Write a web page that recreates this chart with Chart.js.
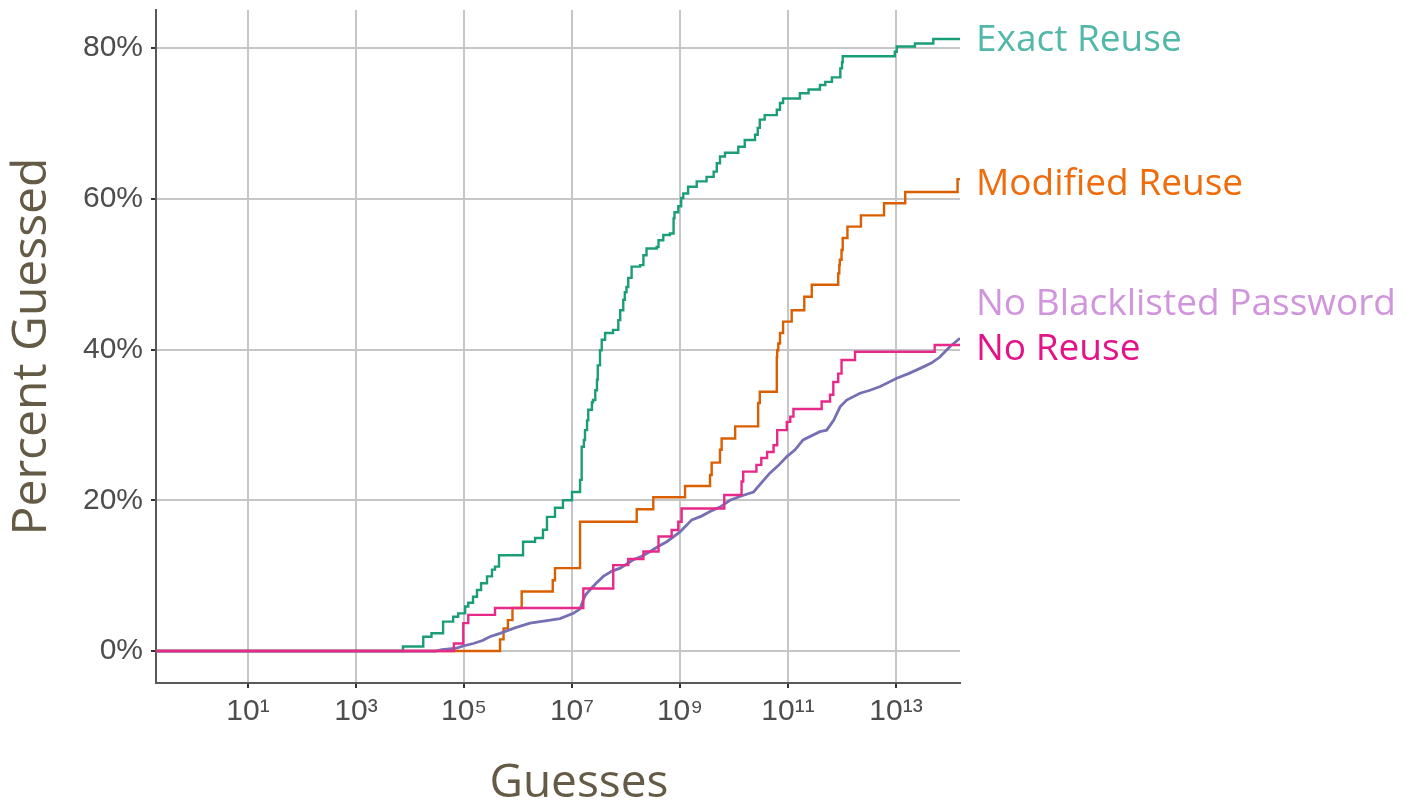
<!DOCTYPE html>
<html>
<head>
<meta charset="utf-8">
<script src="https://cdn.jsdelivr.net/npm/chart.js@4.4.1/dist/chart.umd.min.js"></script>
<style>
  html, body { margin: 0; padding: 0; background: #fff; }
  #wrap { width: 1406px; height: 805px; }
</style>
</head>
<body>
<div id="wrap"><canvas id="myChart" width="1406" height="805"></canvas></div>
<script>
// series names, in the order the end labels appear
const seriesNames = ['Exact Reuse', 'Modified Reuse', 'No Blacklisted Password', 'No Reuse'];

// Exact Reuse (guesses, percent guessed)
const exactX = [0.2, 7.4e3, 1.76e4, 2.5e4, 4.1e4, 6.3e4, 7.8e4, 1.05e5, 1.2e5, 1.47e5, 1.74e5, 2.07e5, 2.67e5, 3.3e5, 3.75e5, 4.45e5,
  1.24e6, 2.07e6, 2.9e6, 3.44e6, 4.84e6, 6.8e6, 1.0e7, 1.41e7, 1.51e7, 1.66e7, 1.74e7, 1.9e7, 2.0e7, 2.34e7, 2.45e7, 2.7e7, 2.9e7,
  3.0e7, 3.3e7, 3.55e7, 4.1e7, 5.75e7, 7.2e7, 7.8e7, 8.9e7, 9.5e7, 1.02e8, 1.1e8, 1.27e8, 1.82e8, 2.1e8, 2.4e8, 3.7e8, 4.0e8,
  4.9e8, 6.5e8, 7.6e8, 7.9e8, 9.3e8, 1.05e9, 1.15e9, 1.41e9, 2.04e9, 3.1e9, 4.2e9, 4.8e9, 5.5e9, 6.8e9, 1.2e10, 1.58e10, 2.45e10,
  2.75e10, 3.0e10, 3.7e10, 6.2e10, 7.1e10, 8.1e10, 1.66e11, 2.4e11, 3.9e11, 4.9e11, 6.5e11, 9.3e11, 1.0e12, 1.03e12, 9.5e12,
  1.03e13, 2.24e13, 4.9e13, 1.53e14];
const exactY = [0, 0.6, 1.9, 2.35, 3.9, 4.55, 5.0, 5.9, 6.4, 7.2, 8.1, 9.0, 9.9, 10.8, 11.2, 12.7,
  14.5, 15.0, 16.1, 17.8, 19.0, 20.0, 21.1, 22.7, 27.1, 28.0, 29.3, 30.6, 32.0, 33.0, 33.3, 34.6, 36.0,
  37.9, 39.9, 41.3, 42.2, 42.6, 43.9, 45.2, 46.6, 47.6, 48.3, 49.5, 51.0, 51.2, 52.5, 53.4, 53.6, 54.5,
  55.2, 55.4, 57.4, 58.2, 59.0, 60.1, 60.7, 61.6, 62.3, 62.9, 63.6, 64.7, 65.6, 66.1, 66.9, 67.8, 68.5,
  69.4, 70.5, 71.1, 71.8, 72.7, 73.3, 74.0, 74.5, 75.1, 75.5, 76.1, 77.3, 78.1, 78.9, 79.5,
  80.2, 80.6, 81.2, 81.2];

// Modified Reuse
const modX = [0.2, 4.65e5, 5.4e5, 6.5e5, 7.9e5, 1.17e6, 4.4e6, 4.84e6, 1.41e7, 1.58e8, 3.2e8, 1.24e9, 3.6e9, 3.86e9, 5.5e9,
  5.9e9, 1.05e10, 2.8e10, 3.0e10, 6.2e10, 6.3e10, 6.6e10, 7.1e10, 8.1e10, 1.17e11, 2.0e11, 2.75e11, 8.5e11, 8.9e11, 9.1e11,
  9.8e11, 1.03e12, 1.26e12, 2.24e12, 6.0e12, 1.48e13, 1.38e14, 1.53e14];
const modY = [0, 1.55, 3.0, 4.1, 5.7, 7.9, 9.4, 11.0, 17.15, 18.8, 20.4, 21.9, 23.35, 25.0, 26.7,
  28.2, 29.8, 32.9, 34.4, 39.0, 39.9, 40.8, 42.2, 43.7, 45.2, 47.0, 48.6, 50.1, 51.2, 51.9,
  53.2, 54.8, 56.3, 57.8, 59.4, 60.9, 62.6, 62.6];

// No Blacklisted Password
const noBlX = [0.2, 3.0e4, 3.9e4, 7.3e4, 1.0e5, 1.49e5, 2.2e5, 3.0e5, 4.65e5, 8.2e5, 1.67e6, 3.2e6, 6.0e6, 1.06e7, 1.41e7, 1.62e7,
  1.8e7, 2.14e7, 2.8e7, 3.8e7, 5.5e7, 7.8e7, 1.36e8, 2.0e8, 2.8e8, 4.0e8, 5.7e8, 1.0e9, 1.65e9, 2.5e9, 3.6e9, 5.5e9, 8.4e9,
  1.4e10, 2.3e10, 3.3e10, 4.6e10, 6.6e10, 9.5e10, 1.35e11, 1.9e11, 3.9e11, 5.2e11, 7.0e11, 9.2e11,
  1.22e12, 2.15e12, 3.3e12, 5.1e12, 1.03e13, 1.7e13, 2.8e13, 4.5e13, 6.5e13, 1.0e14, 1.53e14];
const noBlY = [0, 0, 0.2, 0.4, 0.7, 1.0, 1.4, 1.9, 2.35, 3.0, 3.7, 4.0, 4.3, 5.0, 5.6, 6.8,
  7.5, 8.1, 9.0, 9.9, 10.6, 11.0, 12.1, 12.6, 13.2, 13.9, 14.5, 15.8, 17.4, 17.9, 18.5, 19.1, 20.0,
  20.6, 21.1, 22.4, 23.6, 24.6, 25.8, 26.7, 28.0, 29.1, 29.3, 30.6, 32.4,
  33.3, 34.2, 34.6, 35.1, 36.2, 36.8, 37.5, 38.2, 39.0, 40.4, 41.5];

// No Reuse
const noReuseX = [0.2, 6.5e4, 9.7e4, 1.2e5, 3.75e5, 1.62e7, 5.8e7, 1.1e8, 2.1e8, 4.0e8, 7.0e8, 9.3e8, 1.07e9, 6.6e9, 1.38e10,
  1.48e10, 2.6e10, 3.2e10, 4.1e10, 5.4e10, 6.3e10, 9.5e10, 1.1e11, 1.26e11, 4.2e11, 6.0e11, 6.9e11, 8.5e11, 9.8e11,
  1.74e12, 5.2e13, 1.53e14];
const noReuseY = [0, 1.0, 3.7, 4.8, 5.7, 8.3, 11.4, 12.2, 13.2, 15.2, 16.05, 17.15, 18.9, 20.7, 22.5,
  23.8, 24.7, 25.6, 26.4, 27.3, 29.3, 30.4, 31.1, 32.1, 33.1, 34.0, 35.7, 36.8, 38.6,
  39.7, 40.6, 40.6];

// where the end labels sit (percent)
const labelPct = [81.26, 62.27, 46.34, 40.27];

// axes
const xMin = 0.198;
const xMax = 1.53e14;
const xTicks = [1e1, 1e3, 1e5, 1e7, 1e9, 1e11, 1e13];
const xTickLabels = ['10¹', '10³', '10⁵', '10⁷', '10⁹', '10¹¹', '10¹³'];
const yMin = -4.24;
const yMax = 85.04;
const yTicks = [0, 20, 40, 60, 80];
const xTitle = 'Guesses';

const lineColors = ['#1b9e77', '#d95f02', '#7570b3', '#e7298a'];
const labelColors = ['#52b8a8', '#ef6c0c', '#d195dd', '#e3138a'];

function pts(xs, ys) {
    let out = [];
    for (let i = 0; i < xs.length; i++) {
        out.push({ x: xs[i], y: ys[i] });
    }
    return out;
}

const endLabels = {
    id: 'endLabels',
    afterDraw(chart) {
        const ctx = chart.ctx;
        const yScale = chart.scales.y;
        const area = chart.chartArea;
        ctx.save();
        ctx.font = "37px 'Open Sans'";
        ctx.textAlign = 'left';
        ctx.textBaseline = 'alphabetic';
        for (let i = 0; i < seriesNames.length; i++) {
            ctx.fillStyle = labelColors[i];
            // baseline set so the capitals are centred on the label value
            ctx.fillText(seriesNames[i], area.right + 16, yScale.getPixelForValue(labelPct[i]) + 13);
        }
        // x axis title, sits a little right of the panel centre like the original
        ctx.font = "46px 'Open Sans'";
        ctx.fillStyle = '#645a46';
        ctx.textAlign = 'center';
        ctx.fillText(xTitle, (area.left + area.right) / 2 + 21, 797);
        ctx.restore();
    }
};

const tickFont = { family: "'Liberation Sans', Arial, sans-serif", size: 30 };

new Chart('myChart', {
    type: 'line',
    data: {
        datasets: [
            { label: seriesNames[0], data: pts(exactX, exactY), borderColor: lineColors[0], borderWidth: 2.4, stepped: true, order: 3 },
            { label: seriesNames[1], data: pts(modX, modY), borderColor: lineColors[1], borderWidth: 2.4, stepped: true, order: 2 },
            { label: seriesNames[2], data: pts(noBlX, noBlY), borderColor: lineColors[2], borderWidth: 2.8, tension: 0, order: 1 },
            { label: seriesNames[3], data: pts(noReuseX, noReuseY), borderColor: lineColors[3], borderWidth: 2.4, stepped: true, order: 0 }
        ]
    },
    options: {
        responsive: false,
        animation: false,
        devicePixelRatio: 1,
        elements: { point: { radius: 0 } },
        layout: { padding: { left: 0, right: 446, top: 10, bottom: 0 } },
        plugins: {
            legend: { display: false },
            tooltip: { enabled: false }
        },
        scales: {
            x: {
                type: 'logarithmic',
                min: xMin,
                max: xMax,
                afterBuildTicks: s => { s.ticks = xTicks.map(v => ({ value: v })); },
                afterFit: s => { s.height = 122; s.paddingLeft = 0; s.paddingRight = 0; },
                ticks: {
                    autoSkip: false,
                    maxRotation: 0,
                    padding: 6,
                    color: '#4d4d4d',
                    font: tickFont,
                    callback: (v, i) => xTickLabels[i]
                },
                grid: { color: '#c6c6c6', lineWidth: 2, tickColor: '#333', tickWidth: 2, tickLength: 5 },
                border: { display: true, color: '#595959', width: 2 }
            },
            y: {
                type: 'linear',
                min: yMin,
                max: yMax,
                afterBuildTicks: s => { s.ticks = yTicks.map(v => ({ value: v })); },
                afterFit: s => { s.width = 156; s.paddingTop = 0; s.paddingBottom = 0; },
                ticks: {
                    padding: 8,
                    color: '#4d4d4d',
                    font: tickFont,
                    callback: v => v + '%'
                },
                grid: { color: '#c6c6c6', lineWidth: 2, tickColor: '#333', tickWidth: 2, tickLength: 5 },
                border: { display: true, color: '#595959', width: 2 },
                title: {
                    display: true,
                    text: 'Percent Guessed',
                    color: '#645a46',
                    font: { family: "'Open Sans', sans-serif", size: 48 },
                    padding: { top: 4, bottom: 0 }
                }
            }
        }
    },
    plugins: [endLabels]
});
</script>
</body>
</html>
